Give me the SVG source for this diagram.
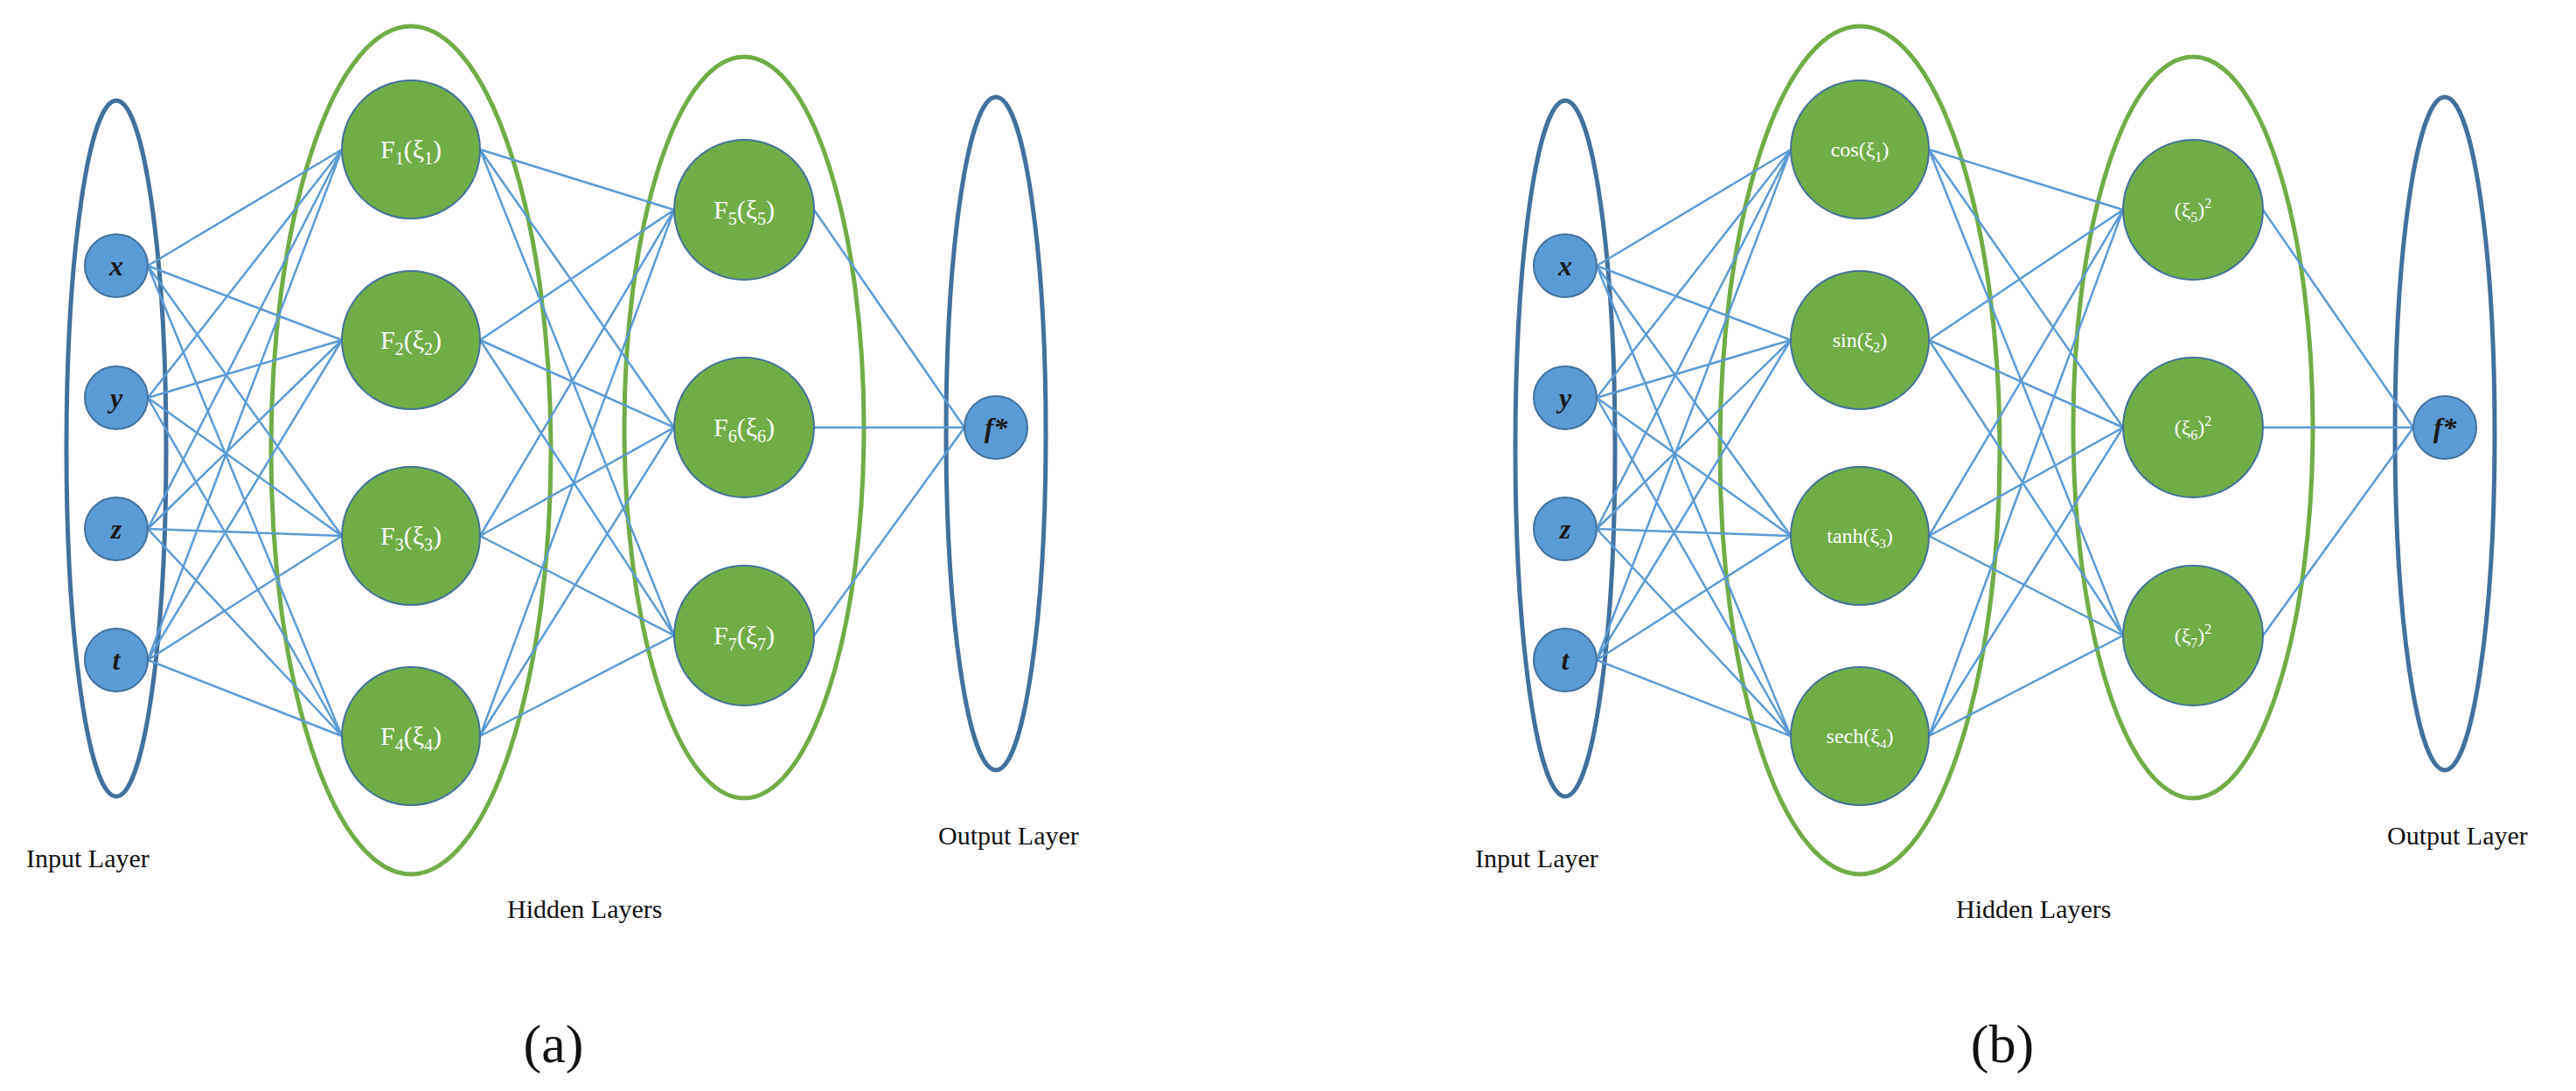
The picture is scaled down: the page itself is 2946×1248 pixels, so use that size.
<svg xmlns="http://www.w3.org/2000/svg" width="2946" height="1248" viewBox="0 0 2946 1248">
<style>
.lay{fill:none;stroke-width:5}
.bl{stroke:#41719C}
.gr{stroke:#70AD47}
.e{fill:none;stroke:#5B9BD5;stroke-width:2.5}
.in{fill:#5B9BD5;stroke:#41719C;stroke-width:2}
.hn{fill:#70AD47;stroke:#41719C;stroke-width:2}
.it{font-family:"Liberation Serif",serif;font-style:italic;font-weight:bold;font-size:32px;fill:#1a1a1a;text-anchor:middle}
.ht{font-family:"Liberation Serif",serif;font-size:30px;fill:#fff;text-anchor:middle}
.hs{font-family:"Liberation Serif",serif;font-size:24px;fill:#fff;text-anchor:middle}
.lb{font-family:"Liberation Serif",serif;font-size:30px;fill:#111}
.cap{font-family:"Liberation Serif",serif;font-size:62px;fill:#111;text-anchor:middle}
</style>
<defs>
<path id="edges" d="M169,304L391,171M169,304L391,389M169,304L391,613M169,304L391,842M169,455L391,171M169,455L391,389M169,455L391,613M169,455L391,842M169,605L391,171M169,605L391,389M169,605L391,613M169,605L391,842M169,755L391,171M169,755L391,389M169,755L391,613M169,755L391,842M549,171L771,240M549,171L771,489M549,171L771,727M549,389L771,240M549,389L771,489M549,389L771,727M549,613L771,240M549,613L771,489M549,613L771,727M549,842L771,240M549,842L771,489M549,842L771,727M931,240L1103,489M931,489L1103,489M931,727L1103,489"/>
</defs>
<g id="layers">
<ellipse class="lay bl" cx="133" cy="513" rx="57" ry="398"/>
<ellipse class="lay gr" cx="470" cy="515" rx="160" ry="485"/>
<ellipse class="lay gr" cx="851" cy="489" rx="137" ry="424"/>
<ellipse class="lay bl" cx="1139" cy="496" rx="57" ry="385"/>
<ellipse class="lay bl" cx="1790" cy="513" rx="57" ry="398"/>
<ellipse class="lay gr" cx="2127" cy="515" rx="160" ry="485"/>
<ellipse class="lay gr" cx="2508" cy="489" rx="137" ry="424"/>
<ellipse class="lay bl" cx="2796" cy="496" rx="57" ry="385"/>
</g>
<g id="connectors">
<use href="#edges" class="e"/>
<use href="#edges" class="e" transform="translate(1657,0)"/>
</g>
<g id="a_x"><circle class="in" cx="133" cy="304" r="36"/><text class="it" x="133" y="315">x</text></g>
<g id="a_y"><circle class="in" cx="133" cy="455" r="36"/><text class="it" x="133" y="466">y</text></g>
<g id="a_z"><circle class="in" cx="133" cy="605" r="36"/><text class="it" x="133" y="616">z</text></g>
<g id="a_t"><circle class="in" cx="133" cy="755" r="36"/><text class="it" x="133" y="766">t</text></g>
<g id="a_F1"><circle class="hn" cx="470" cy="171" r="79"/><text class="ht" x="470" y="181">F<tspan font-size="20" dy="7">1</tspan><tspan dy="-7">(ξ</tspan><tspan font-size="20" dy="7">1</tspan><tspan dy="-7">)</tspan></text></g>
<g id="a_F2"><circle class="hn" cx="470" cy="389" r="79"/><text class="ht" x="470" y="399">F<tspan font-size="20" dy="7">2</tspan><tspan dy="-7">(ξ</tspan><tspan font-size="20" dy="7">2</tspan><tspan dy="-7">)</tspan></text></g>
<g id="a_F3"><circle class="hn" cx="470" cy="613" r="79"/><text class="ht" x="470" y="623">F<tspan font-size="20" dy="7">3</tspan><tspan dy="-7">(ξ</tspan><tspan font-size="20" dy="7">3</tspan><tspan dy="-7">)</tspan></text></g>
<g id="a_F4"><circle class="hn" cx="470" cy="842" r="79"/><text class="ht" x="470" y="852">F<tspan font-size="20" dy="7">4</tspan><tspan dy="-7">(ξ</tspan><tspan font-size="20" dy="7">4</tspan><tspan dy="-7">)</tspan></text></g>
<g id="a_F5"><circle class="hn" cx="851" cy="240" r="80"/><text class="ht" x="851" y="250">F<tspan font-size="20" dy="7">5</tspan><tspan dy="-7">(ξ</tspan><tspan font-size="20" dy="7">5</tspan><tspan dy="-7">)</tspan></text></g>
<g id="a_F6"><circle class="hn" cx="851" cy="489" r="80"/><text class="ht" x="851" y="499">F<tspan font-size="20" dy="7">6</tspan><tspan dy="-7">(ξ</tspan><tspan font-size="20" dy="7">6</tspan><tspan dy="-7">)</tspan></text></g>
<g id="a_F7"><circle class="hn" cx="851" cy="727" r="80"/><text class="ht" x="851" y="737">F<tspan font-size="20" dy="7">7</tspan><tspan dy="-7">(ξ</tspan><tspan font-size="20" dy="7">7</tspan><tspan dy="-7">)</tspan></text></g>
<g id="a_out"><circle class="in" cx="1139" cy="489" r="36"/><text class="it" x="1139" y="500">f*</text></g>
<g id="a_labels">
<text class="lb" x="30" y="992">Input Layer</text>
<text class="lb" x="580" y="1050">Hidden Layers</text>
<text class="lb" x="1073" y="966">Output Layer</text>
<text class="cap" x="633" y="1215">(a)</text>
</g>
<g id="b_x"><circle class="in" cx="1790" cy="304" r="36"/><text class="it" x="1790" y="315">x</text></g>
<g id="b_y"><circle class="in" cx="1790" cy="455" r="36"/><text class="it" x="1790" y="466">y</text></g>
<g id="b_z"><circle class="in" cx="1790" cy="605" r="36"/><text class="it" x="1790" y="616">z</text></g>
<g id="b_t"><circle class="in" cx="1790" cy="755" r="36"/><text class="it" x="1790" y="766">t</text></g>
<g id="b_F1"><circle class="hn" cx="2127" cy="171" r="79"/><text class="hs" x="2127" y="179">cos(ξ<tspan font-size="16" dy="6">1</tspan><tspan dy="-6">)</tspan></text></g>
<g id="b_F2"><circle class="hn" cx="2127" cy="389" r="79"/><text class="hs" x="2127" y="397">sin(ξ<tspan font-size="16" dy="6">2</tspan><tspan dy="-6">)</tspan></text></g>
<g id="b_F3"><circle class="hn" cx="2127" cy="613" r="79"/><text class="hs" x="2127" y="621" font-size="21">tanh(ξ<tspan font-size="15" dy="6">3</tspan><tspan dy="-6">)</tspan></text></g>
<g id="b_F4"><circle class="hn" cx="2127" cy="842" r="79"/><text class="hs" x="2127" y="850" font-size="21">sech(ξ<tspan font-size="15" dy="6">4</tspan><tspan dy="-6">)</tspan></text></g>
<g id="b_F5"><circle class="hn" cx="2508" cy="240" r="80"/><text class="hs" x="2508" y="248">(ξ<tspan font-size="16" dy="6">5</tspan><tspan dy="-6">)</tspan><tspan font-size="16" dy="-10">2</tspan></text></g>
<g id="b_F6"><circle class="hn" cx="2508" cy="489" r="80"/><text class="hs" x="2508" y="497">(ξ<tspan font-size="16" dy="6">6</tspan><tspan dy="-6">)</tspan><tspan font-size="16" dy="-10">2</tspan></text></g>
<g id="b_F7"><circle class="hn" cx="2508" cy="727" r="80"/><text class="hs" x="2508" y="735">(ξ<tspan font-size="16" dy="6">7</tspan><tspan dy="-6">)</tspan><tspan font-size="16" dy="-10">2</tspan></text></g>
<g id="b_out"><circle class="in" cx="2796" cy="489" r="36"/><text class="it" x="2796" y="500">f*</text></g>
<g id="b_labels">
<text class="lb" x="1687" y="992">Input Layer</text>
<text class="lb" x="2237" y="1050">Hidden Layers</text>
<text class="lb" x="2730" y="966">Output Layer</text>
<text class="cap" x="2290" y="1215">(b)</text>
</g>
</svg>
